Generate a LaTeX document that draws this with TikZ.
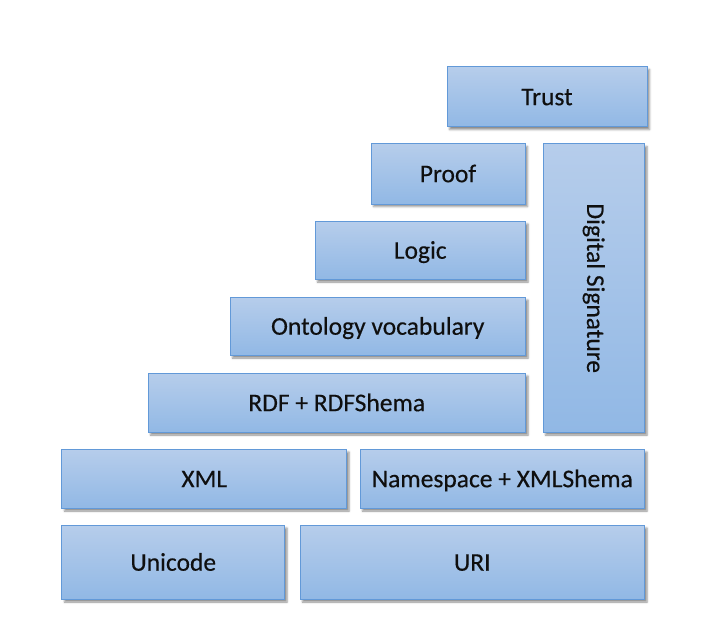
\documentclass[tikz,border=0pt]{standalone}
\usepackage{fontspec}
\setmainfont{Carlito}
\newfontfamily\layerfont{Carlito}[FakeBold=0.35]
\usetikzlibrary{shadows.blur}
\definecolor{boxtop}{RGB}{182,205,235}
\definecolor{boxbot}{RGB}{145,184,229}
\definecolor{boxline}{RGB}{98,153,216}
\definecolor{inkcol}{RGB}{15,15,15}
\tikzset{
  layer/.style={draw=boxline, line width=1bp, top color=boxtop, bottom color=boxbot,
    rectangle, inner sep=0pt, text=inkcol,
    font=\layerfont\fontsize{25.5bp}{30bp}\selectfont,
    blur shadow={shadow xshift=2.5bp, shadow yshift=-2.5bp, shadow blur radius=2bp, shadow opacity=45}},
  lbl/.style={text height=16.4bp, text depth=0bp}
}
\begin{document}
\begin{tikzpicture}[x=1bp,y=-1bp]
\useasboundingbox (0,0) rectangle (704,643);
\node[layer,lbl,minimum width=200bp,minimum height=60bp] (trust) at (547,97) {Trust};
\node[layer,lbl,minimum width=154bp,minimum height=60bp] (proof) at (448,174) {Proof};
\node[layer,minimum width=101.5bp,minimum height=288.5bp] (digsig) at (593.75,288.25) {\rotatebox{-90}{Digital Signature}};
\node[layer,lbl,minimum width=210.5bp,minimum height=58bp] (logic) at (420.25,250.5) {Logic};
\node[layer,lbl,minimum width=295.5bp,minimum height=58bp] (onto) at (377.75,326.5) {Ontology vocabulary};
\node[layer,lbl,minimum width=377.5bp,minimum height=59bp] (rdf) at (336.75,403) {RDF + RDFShema};
\node[layer,lbl,minimum width=284.5bp,minimum height=59bp] (xml) at (204.25,479) {XML};
\node[layer,lbl,minimum width=284.5bp,minimum height=59bp] (ns) at (502.25,479) {Namespace + XMLShema};
\node[layer,lbl,minimum width=222.5bp,minimum height=74bp] (unicode) at (173.25,562.5) {Unicode};
\node[layer,lbl,minimum width=344.5bp,minimum height=74bp] (uri) at (472.25,562.5) {URI};
\end{tikzpicture}
\end{document}
